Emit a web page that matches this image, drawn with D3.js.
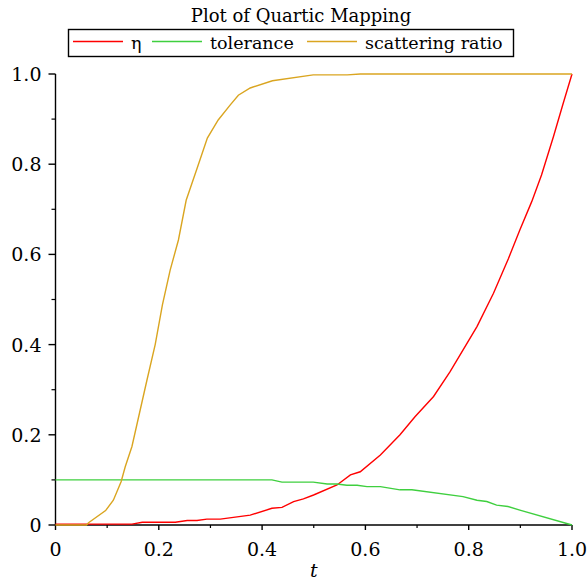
<!DOCTYPE html>
<html>
<head>
<meta charset="utf-8">
<script src="https://cdn.jsdelivr.net/npm/d3@7"></script>
<style>
  body { margin: 0; background: #fff; }
  text { font-family: "DejaVu Serif", serif; }
</style>
</head>
<body>
<svg width="587" height="581"></svg>
<script>
// values
let etaT = [0, 0.148, 0.168, 0.232, 0.255, 0.274, 0.293, 0.319, 0.377, 0.419, 0.4385, 0.461, 0.48, 0.4997, 0.545, 0.571, 0.59, 0.629, 0.667, 0.696, 0.732, 0.764, 0.816, 0.848, 0.877, 0.899, 0.922, 0.941, 0.964, 0.983, 1.0]
let etaV = [0.002, 0.002, 0.006, 0.006, 0.01, 0.01, 0.013, 0.013, 0.022, 0.037, 0.039, 0.052, 0.058, 0.0665, 0.0887, 0.111, 0.118, 0.155, 0.2, 0.24, 0.285, 0.34, 0.44, 0.514, 0.591, 0.654, 0.717, 0.776, 0.861, 0.935, 1.0]

let tolT = [0, 0.419, 0.4385, 0.499, 0.526, 0.545, 0.564, 0.584, 0.603, 0.629, 0.667, 0.69, 0.789, 0.816, 0.835, 0.854, 0.876, 0.899, 1.0]
let tolV = [0.1, 0.1, 0.095, 0.095, 0.091, 0.091, 0.088, 0.088, 0.085, 0.085, 0.078, 0.078, 0.063, 0.055, 0.052, 0.044, 0.041, 0.033, 0]

let scatT = [0, 0.06, 0.064, 0.097, 0.112, 0.127, 0.135, 0.148, 0.161, 0.177, 0.193, 0.207, 0.222, 0.238, 0.253, 0.275, 0.294, 0.315, 0.338, 0.354, 0.377, 0.42, 0.499, 0.565, 0.59, 1.0]
let scatV = [0, 0, 0.005, 0.032, 0.055, 0.096, 0.129, 0.174, 0.24, 0.321, 0.4, 0.488, 0.565, 0.632, 0.72, 0.794, 0.858, 0.898, 0.931, 0.953, 0.969, 0.985, 0.998, 0.998, 1.0, 1.0]

let xTicks = [0, 0.2, 0.4, 0.6, 0.8, 1.0]
let yTicks = [0, 0.2, 0.4, 0.6, 0.8, 1.0]
let minorTicks = [0.1, 0.3, 0.5, 0.7, 0.9]

let series = [
    { name: "η", t: etaT, v: etaV, color: "#ff0000" },
    { name: "tolerance", t: tolT, v: tolV, color: "#3fcf3f" },
    { name: "scattering ratio", t: scatT, v: scatV, color: "#daa520" }
]

let svg = d3.select("svg")

let x = d3.scaleLinear().domain([0, 1]).range([55.5, 572])
let y = d3.scaleLinear().domain([0, 1]).range([525, 74])

let fmt = d => d === 0 ? "0" : d3.format(".1f")(d)

// axes
let xAxis = svg.append("g")
    .attr("transform", "translate(0,525)")
xAxis.append("line")
    .attr("x1", x(0)).attr("x2", x(1))
    .attr("stroke", "#000").attr("stroke-width", 1.4)
xAxis.selectAll(".maj").data(xTicks).join("line")
    .attr("x1", d => x(d)).attr("x2", d => x(d))
    .attr("y1", 0).attr("y2", 5)
    .attr("stroke", "#000").attr("stroke-width", 1.4)
xAxis.selectAll(".min").data(minorTicks).join("line")
    .attr("x1", d => x(d)).attr("x2", d => x(d))
    .attr("y1", 0).attr("y2", 3)
    .attr("stroke", "#000").attr("stroke-width", 1.2)
xAxis.selectAll("text").data(xTicks).join("text")
    .attr("x", d => x(d))
    .attr("y", 31)
    .attr("text-anchor", "middle")
    .style("font-size", "19px")
    .text(fmt)

let yAxis = svg.append("g")
    .attr("transform", "translate(" + x(0) + ",0)")
yAxis.append("line")
    .attr("y1", y(0)).attr("y2", y(1))
    .attr("stroke", "#000").attr("stroke-width", 1.4)
yAxis.selectAll(".maj").data(yTicks).join("line")
    .attr("y1", d => y(d)).attr("y2", d => y(d))
    .attr("x1", 0).attr("x2", -7)
    .attr("stroke", "#000").attr("stroke-width", 1.4)
yAxis.selectAll(".min").data(minorTicks).join("line")
    .attr("y1", d => y(d)).attr("y2", d => y(d))
    .attr("x1", 0).attr("x2", -4)
    .attr("stroke", "#000").attr("stroke-width", 1.2)
yAxis.selectAll("text").data(yTicks).join("text")
    .attr("x", -14)
    .attr("y", d => y(d) + 7)
    .attr("text-anchor", "end")
    .style("font-size", "19px")
    .text(fmt)

svg.append("text")
    .attr("x", x(0.5))
    .attr("y", 577)
    .attr("text-anchor", "middle")
    .style("font-size", "19px")
    .style("font-style", "italic")
    .text("t")

// curves
let line = d3.line()
    .x(d => x(d[0]))
    .y(d => y(d[1]))

series.forEach(s => {
    svg.append("path")
        .datum(s.t.map((t, i) => [t, s.v[i]]))
        .attr("d", line)
        .attr("fill", "none")
        .attr("stroke", s.color)
        .attr("stroke-width", 1.4)
})

// title + legend
svg.append("text")
    .attr("x", 301)
    .attr("y", 22)
    .attr("text-anchor", "middle")
    .style("font-size", "18px")
    .text("Plot of Quartic Mapping")

svg.append("rect")
    .attr("x", 68.5).attr("y", 29.5)
    .attr("width", 445).attr("height", 27)
    .attr("fill", "none")
    .attr("stroke", "#000").attr("stroke-width", 1.4)

let legX = [73, 152, 307]
let leg = svg.selectAll(".leg").data(series).join("g")
    .attr("transform", (d, i) => "translate(" + legX[i] + ",0)")
leg.append("line")
    .attr("x1", 0).attr("x2", 50)
    .attr("y1", 41.5).attr("y2", 41.5)
    .attr("stroke", d => d.color).attr("stroke-width", 1.4)
leg.append("text")
    .attr("x", 58)
    .attr("y", 49)
    .style("font-size", "17.5px")
    .text(d => d.name)
</script>
</body>
</html>
